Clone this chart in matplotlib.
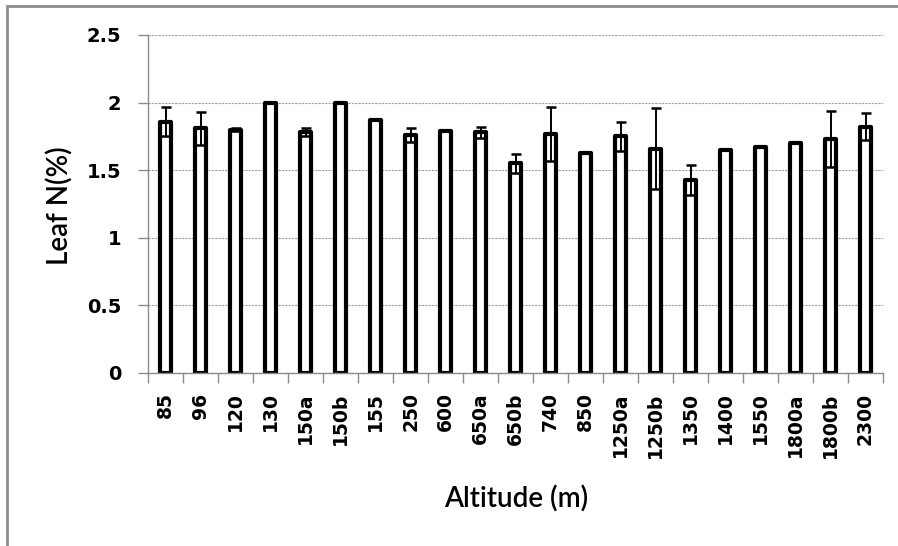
import matplotlib.pyplot as plt
from matplotlib.patches import Rectangle

altitudes = ["85", "96", "120", "130", "150a", "150b", "155", "250", "600", "650a", "650b",
             "740", "850", "1250a", "1250b", "1350", "1400", "1550", "1800a", "1800b", "2300"]
leaf_n = [1.86, 1.81, 1.80, 2.00, 1.78, 2.00, 1.87, 1.76, 1.79, 1.78, 1.55,
          1.77, 1.63, 1.75, 1.66, 1.43, 1.65, 1.67, 1.70, 1.73, 1.82]
leaf_n_err = [0.11, 0.12, 0.01, 0.0, 0.03, 0.0, 0.0, 0.05, 0.0, 0.04, 0.07,
              0.20, 0.0, 0.11, 0.30, 0.11, 0.0, 0.0, 0.0, 0.21, 0.10]

plt.rcParams['font.family'] = ['Lato', 'DejaVu Sans']

fig = plt.figure(figsize=(8.98, 5.46), dpi=100)
ax = fig.add_axes([148 / 898, 1 - 373 / 546, 735 / 898, 338 / 546])

# grey outer frame of the chart
fig.patches.append(Rectangle((7 / 898, -0.05), 1.2, 1 - 6 / 546 + 0.05,
                             transform=fig.transFigure, fill=False,
                             edgecolor="#8c8c8c", linewidth=2))

x = list(range(len(altitudes)))
ax.bar(x, leaf_n, width=0.34, color="white", edgecolor="black", linewidth=3,
       joinstyle="round", zorder=2)
ax.errorbar(x, leaf_n, yerr=leaf_n_err, fmt="none", ecolor="black",
            elinewidth=1.4, capsize=3.6, capthick=1.8, zorder=3)

ax.set_xlim(-0.5, len(altitudes) - 0.5)
ax.set_ylim(0, 2.5)
ax.set_yticks([0, 0.5, 1, 1.5, 2, 2.5])
ax.set_yticklabels(["0", "0.5", "1", "1.5", "2", "2.5"], fontsize=14,
                   fontweight="bold", family="DejaVu Sans")
ax.set_xticks(x)
ax.set_xticklabels(altitudes, rotation=90, fontsize=13.5, fontweight="bold",
                   family="DejaVu Sans")
ax.tick_params(axis="x", length=0, pad=14)
ax.set_xticks([i + 0.5 for i in range(-1, len(altitudes))], minor=True)
ax.tick_params(axis="x", which="minor", length=7, color="#8c8c8c", width=1)
ax.tick_params(axis="y", length=7, color="#8c8c8c", width=1, pad=12)

ax.yaxis.grid(True, linestyle=(0, (2, 1)), color="#a0a0a0", linewidth=0.8, zorder=0)
ax.set_axisbelow(True)
for side in ["top", "right"]:
    ax.spines[side].set_visible(False)
for side in ["left", "bottom"]:
    ax.spines[side].set_color("#8c8c8c")
    ax.spines[side].set_linewidth(1)

ax.set_ylabel("Leaf N(%)", fontsize=20, fontweight="semibold", va="center")
ax.set_xlabel("Altitude (m)", fontsize=20, fontweight="semibold", va="center")
ax.yaxis.set_label_coords((60 - 148) / 735, (373 - 206) / 338)
ax.xaxis.set_label_coords((516 - 148) / 735, (373 - 499) / 338)

fig.savefig("out.png", dpi=100)
